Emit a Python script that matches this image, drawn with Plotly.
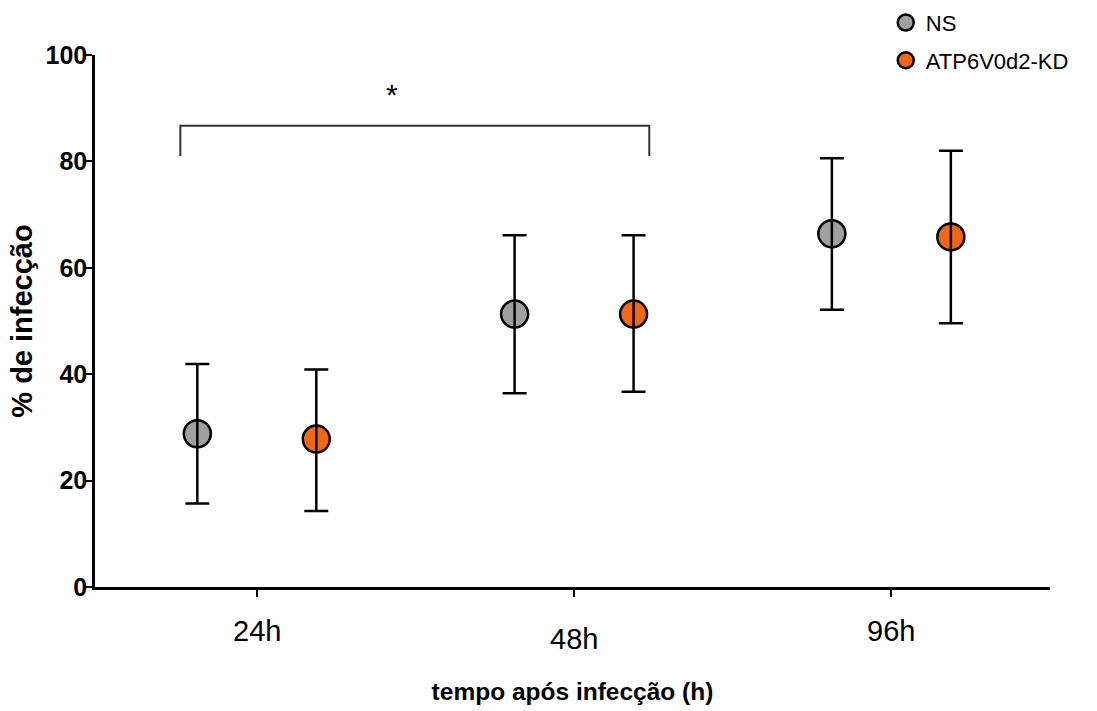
import plotly.graph_objects as go

categories = ["24h", "48h", "96h"]
series_names = ["NS", "ATP6V0d2-KD"]
ns_mean = [28.8, 51.3, 66.4]
ns_upper = [41.9, 66.1, 80.6]
ns_lower = [15.7, 36.4, 52.1]
kd_mean = [27.8, 51.3, 65.8]
kd_upper = [40.9, 66.1, 82.0]
kd_lower = [14.3, 36.7, 49.6]
y_ticks = [0, 20, 40, 60, 80, 100]
sig_label = "*"
sig_from = 0   # bracket from 24h group
sig_to = 1     # to 48h group
sig_low = 81.0
sig_high = 86.7

# styling
colors = ["#a0a0a0", "#f26711"]
offset = 0.1875
label_drop = [44, 52, 44]

fig = go.Figure()
groups = [(ns_mean, ns_upper, ns_lower), (kd_mean, kd_upper, kd_lower)]
for i, (name, (m, up, lo)) in enumerate(zip(series_names, groups)):
    xs = [k + (2 * i - 1) * offset for k in range(len(categories))]
    fig.add_trace(go.Scatter(
        x=xs, y=m, mode="markers", name=name,
        legendgroup=name,
        marker=dict(size=27, color=colors[i], line=dict(color="black", width=2.5)),
        hoverinfo="skip",
    ))
    fig.add_trace(go.Scatter(
        x=xs, y=m, mode="markers", showlegend=False, legendgroup=name,
        marker=dict(size=1, color="rgba(0,0,0,0)"),
        error_y=dict(type="data", symmetric=False,
                     array=[u - v for u, v in zip(up, m)],
                     arrayminus=[v - l for v, l in zip(m, lo)],
                     color="black", thickness=2.5, width=12),
        hoverinfo="skip",
    ))

# significance bracket
x0 = sig_from - 0.241
x1 = sig_to + 0.237
fig.add_shape(type="path",
              path=f"M {x0} {sig_low} L {x0} {sig_high} L {x1} {sig_high} L {x1} {sig_low}",
              xref="x", yref="y", line=dict(color="#333333", width=2))
fig.add_annotation(x=sig_from + 0.426, y=92.6, text=sig_label, showarrow=False,
                   xref="x", yref="y", font=dict(size=30, color="black", family="Arial"),
                   yanchor="middle")

for k, c in enumerate(categories):
    fig.add_annotation(x=k, y=0, xref="x", yref="paper", text=c, showarrow=False,
                       yanchor="middle", yshift=-label_drop[k],
                       font=dict(size=29, color="black", family="Arial"))

fig.update_layout(
    width=1097, height=711,
    margin=dict(l=95, r=47, t=55, b=124, autoexpand=False),
    paper_bgcolor="white", plot_bgcolor="white",
    font=dict(family="Arial", color="black"),
    showlegend=True,
    legend=dict(x=0.828, y=1.10, xanchor="left", yanchor="top",
                font=dict(size=22, family="Arial", color="black"),
                tracegroupgap=6, bgcolor="rgba(0,0,0,0)"),
    xaxis=dict(range=[-0.51, 2.5], tickvals=list(range(len(categories))),
               showticklabels=False, ticks="outside", ticklen=7, tickwidth=2,
               tickcolor="black", showline=True, linecolor="black", linewidth=2.5,
               showgrid=False, zeroline=False,
               title=dict(text="<b>tempo após infecção (h)</b>", standoff=88,
                          font=dict(size=24.5, family="Arial", color="black"))),
    yaxis=dict(range=[0, 100], tickvals=y_ticks, ticks="outside", ticklen=7, tickwidth=2,
               tickcolor="black", showline=True, linecolor="black", linewidth=2.5,
               showgrid=False, zeroline=False, ticklabelstandoff=-7,
               tickfont=dict(size=25, family="Arial", weight="bold", color="black"),
               title=dict(text="<b>% de infecção</b>", standoff=5,
                          font=dict(size=29, family="Arial", color="black"))),
)

fig.write_html("out.html")
